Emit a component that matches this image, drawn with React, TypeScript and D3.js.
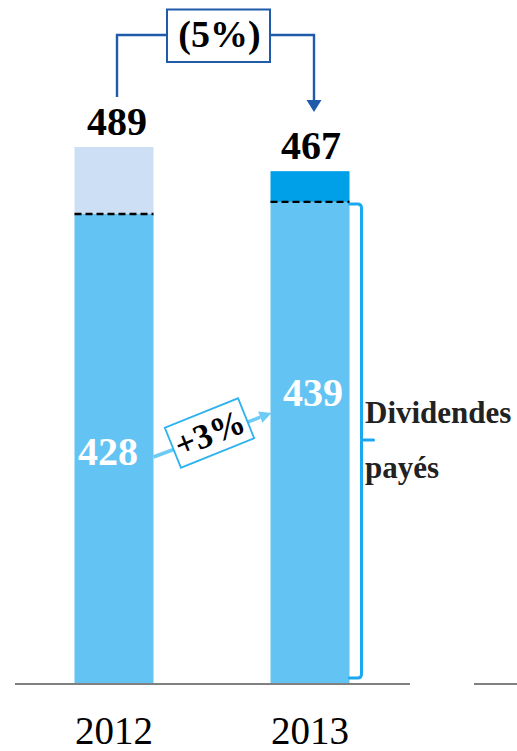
import React from "react";
import * as d3 from "d3";

// Dividends chart: total vs. dividends paid, 2012–2013
const years = ["2012", "2013"];
const totals = [489, 467];
const dividends = [428, 439];
const totalChangeLabel = "(5%)";
const dividendChangeLabel = "+3%";
const braceLabel = ["Dividendes", "payés"];

const W = 517;
const H = 751;
const baseY = 684;

const y = d3.scaleLinear().domain([0, 489]).range([baseY, 147]);
const x = d3.scalePoint<string>().domain(years).range([114, 310]);
const barW = 79;

const topColors = ["#CCDFF4", "#00A0E9"];
const bottomColor = "#63C4F4";
const serif = "Liberation Serif, Times New Roman, serif";

export default function App() {
  const cx = years.map((yr) => x(yr) as number);
  const left = cx.map((c) => c - barW / 2);
  const right = cx.map((c) => c + barW / 2);

  // Brace along the dividends portion of the 2013 bar
  const bTop = y(dividends[1]) + 2;
  const bBot = baseY - 6;
  const bx = right[1] + 12;
  const bMid = 440;
  const r = 4;
  const bracePath = [
    `M${right[1]},${bTop}`,
    `H${bx - r}`,
    `Q${bx},${bTop} ${bx},${bTop + r}`,
    `V${bMid - 1}`,
    `M${bx},${bMid}`,
    `H${bx + 12}`,
    `M${bx},${bMid + 1}`,
    `V${bBot - r}`,
    `Q${bx},${bBot} ${bx - r},${bBot}`,
    `H${right[1]}`,
  ].join(" ");

  // Top connector for the change in totals
  const connY = 35;
  const boxX0 = 167;
  const boxX1 = 270;
  const arrowTip = 112;
  const connColor = "#1F5BAA";

  // Arrow for dividend change
  const aStart: [number, number] = [right[0], 457];
  const aEnd: [number, number] = [left[1] + 1, 413];
  const ang = Math.atan2(aEnd[1] - aStart[1], aEnd[0] - aStart[0]);
  const head = 12;
  const hw = 6;
  const hx = aEnd[0] - head * Math.cos(ang);
  const hy = aEnd[1] - head * Math.sin(ang);
  const px = -Math.sin(ang) * hw;
  const py = Math.cos(ang) * hw;
  const lightArrow = "#6DCBF6";

  const txt = (size: number, bold: boolean) => ({
    fontFamily: serif,
    fontSize: size,
    fontWeight: bold ? 700 : 400,
  });

  return (
    <svg width={W} height={H} style={{ position: "absolute", left: 0, top: 0 }}>
      <rect width={W} height={H} fill="#fff" />

      {years.map((yr, i) => (
        <g key={yr}>
          <rect
            x={left[i]}
            y={y(totals[i])}
            width={barW}
            height={y(dividends[i]) - y(totals[i])}
            fill={topColors[i]}
          />
          <rect
            x={left[i]}
            y={y(dividends[i])}
            width={barW}
            height={baseY - y(dividends[i])}
            fill={bottomColor}
          />
          <line
            x1={left[i]}
            x2={right[i]}
            y1={y(dividends[i])}
            y2={y(dividends[i])}
            stroke="#000"
            strokeWidth={2.4}
            strokeDasharray="7,4"
          />
          <text
            x={cx[i] + (i === 0 ? 3 : 1)}
            y={y(totals[i]) - 12}
            textAnchor="middle"
            style={txt(40, true)}
            fill="#000"
          >
            {totals[i]}
          </text>
          <text
            x={i === 0 ? cx[i] - 6 : cx[i] + 3}
            y={i === 0 ? 465 : 406}
            textAnchor="middle"
            style={txt(40, true)}
            fill="#fff"
          >
            {dividends[i]}
          </text>
          <text x={cx[i]} y={744} textAnchor="middle" style={txt(39, false)} fill="#000">
            {yr}
          </text>
        </g>
      ))}

      {/* baseline */}
      <line x1={15} x2={410} y1={baseY} y2={baseY} stroke="#808080" strokeWidth={2} />
      <line x1={474} x2={517} y1={baseY} y2={baseY} stroke="#808080" strokeWidth={2} />

      {/* total change connector */}
      <path
        d={`M${cx[0] + 3},97 V${connY} H${boxX0} M${boxX1},${connY} H${cx[1] + 4} V${arrowTip - 10}`}
        fill="none"
        stroke={connColor}
        strokeWidth={2.4}
      />
      <path
        d={`M${cx[1] + 4 - 7.5},${arrowTip - 12} L${cx[1] + 4 + 7.5},${arrowTip - 12} L${cx[1] + 4},${arrowTip} Z`}
        fill={connColor}
      />
      <rect x={boxX0} y={9.5} width={boxX1 - boxX0} height={52.5} fill="#fff" stroke={connColor} strokeWidth={2} />
      <text x={(boxX0 + boxX1) / 2 + 1} y={47} textAnchor="middle" style={txt(38, true)} fill="#000">
        {totalChangeLabel}
      </text>

      {/* dividend change arrow */}
      <line x1={aStart[0]} y1={aStart[1]} x2={hx} y2={hy} stroke={lightArrow} strokeWidth={3.5} />
      <path
        d={`M${aEnd[0]},${aEnd[1]} L${hx + px},${hy + py} L${hx - px},${hy - py} Z`}
        fill={lightArrow}
      />
      <g transform={`translate(209.5,433) rotate(-22)`}>
        <rect x={-39.5} y={-21.5} width={79} height={43} fill="#fff" stroke="#2FB2F0" strokeWidth={1.8} />
        <text x={0} y={12} textAnchor="middle" style={txt(35, true)} fill="#000">
          {dividendChangeLabel}
        </text>
      </g>

      {/* brace + label */}
      <path d={bracePath} fill="none" stroke="#1AA8F0" strokeWidth={3} strokeLinecap="round" />
      <text x={365} y={423} style={txt(31, true)} fill="#222">
        {braceLabel[0]}
      </text>
      <text x={365} y={478} style={txt(31, true)} fill="#222">
        {braceLabel[1]}
      </text>
    </svg>
  );
}
